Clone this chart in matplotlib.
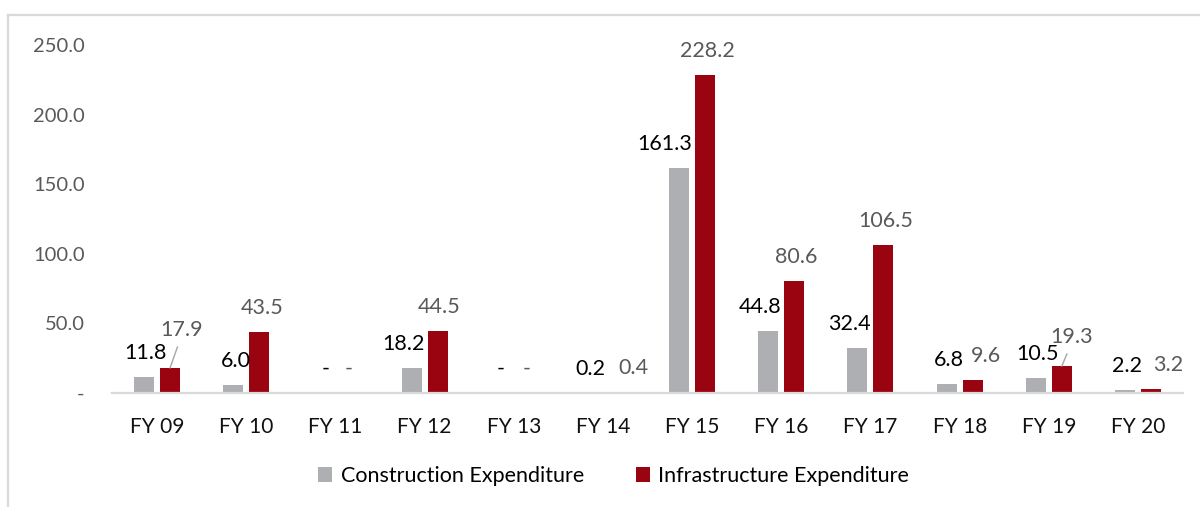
import matplotlib
matplotlib.use("Agg")
import matplotlib.pyplot as plt
import numpy as np
from matplotlib.patches import Patch
from matplotlib.lines import Line2D

# Data
years = ["FY 09", "FY 10", "FY 11", "FY 12", "FY 13", "FY 14",
         "FY 15", "FY 16", "FY 17", "FY 18", "FY 19", "FY 20"]
construction = [11.8, 6.0, 0.0, 18.2, 0.0, 0.2, 161.3, 44.8, 32.4, 6.8, 10.5, 2.2]
infrastructure = [17.9, 43.5, 0.0, 44.5, 0.0, 0.4, 228.2, 80.6, 106.5, 9.6, 19.3, 3.2]
yticks = [0, 50, 100, 150, 200, 250]

# Styling
GREY = "#AEAFB2"
RED = "#9A0410"
LABEL_DARK = "#000000"
LABEL_GREY = "#595959"
LINE_GREY = "#D9D9D9"

# Horizontal label nudges (pixels) so neighbouring labels don't collide
con_dx = [2, 3, 3, -8, 0, 0, -14, -8, -8, 2, 2, 2]
inf_dx = [12, 3, 0, 2, 0, 18, 2, 2, 2, 13, 10, 17]
inf_dy = [14, 0, 0, 0, 0, 0, 0, 0, 0, 0, 5, 0]
leader = [True, False, False, False, False, False, False, False, False, False, True, False]

plt.rcParams["font.family"] = ["Lato", "DejaVu Sans"]

fig = plt.figure(figsize=(12, 5.07), dpi=100)
ax = fig.add_axes([112.4 / 1200, (507 - 393) / 507, 1070.2 / 1200, 348 / 507])

x = np.arange(len(years))
w = 0.224
off = 0.146
ax.bar(x - off, construction, width=w, color=GREY, label="Construction Expenditure", zorder=2)
ax.bar(x + off, infrastructure, width=w, color=RED, label="Infrastructure Expenditure", zorder=2)

ax.set_xlim(-0.5, len(years) - 0.5)
ax.set_ylim(0, 250)

def fmt(v):
    return "-" if v == 0 else f"{v:.1f}"

LABEL_FS = 15.5
base_dy = 24
for i in range(len(years)):
    c = construction[i]
    ax.annotate(fmt(c), xy=(x[i] - off, c), xytext=(con_dx[i], base_dy),
                textcoords="offset pixels", ha="center", va="center",
                fontsize=LABEL_FS, color=LABEL_DARK, annotation_clip=False)
    v = infrastructure[i]
    kw = {}
    if leader[i]:
        kw["arrowprops"] = dict(arrowstyle="-", color="#A6A6A6", lw=1.0,
                                relpos=(0.45, 0.0), shrinkA=3, shrinkB=0)
    ax.annotate(fmt(v), xy=(x[i] + off, v), xytext=(inf_dx[i], base_dy + inf_dy[i]),
                textcoords="offset pixels", ha="center", va="center",
                fontsize=LABEL_FS, color=LABEL_GREY, annotation_clip=False, **kw)

# Axes styling
for s in ["top", "right", "left"]:
    ax.spines[s].set_visible(False)
ax.spines["bottom"].set_color(LINE_GREY)
ax.spines["bottom"].set_linewidth(1.6)

ax.set_xticks(x)
ax.set_xticklabels(years, fontsize=15, color="#111111")
ax.set_yticks(yticks)
ax.set_yticklabels(["-" if t == 0 else f"{t:.1f}" for t in yticks], fontsize=14.5, color=LABEL_GREY)
ax.tick_params(axis="x", length=0, pad=17)
ax.tick_params(axis="y", length=0, pad=20)

# Legend
handles = [Patch(facecolor=GREY, edgecolor="none"), Patch(facecolor=RED, edgecolor="none")]
fig.legend(handles, ["Construction Expenditure", "Infrastructure Expenditure"],
           loc="center", bbox_to_anchor=(613.5 / 1200, (507 - 476) / 507),
           ncol=2, frameon=False, fontsize=15.5, handlelength=0.65, handleheight=0.65,
           handletextpad=0.4, columnspacing=2.4)

# Outer frame (top and left edges)
fig.add_artist(Line2D([8 / 1200, 1.0], [1 - 15 / 507, 1 - 15 / 507],
                      transform=fig.transFigure, color=LINE_GREY, lw=1.6))
fig.add_artist(Line2D([8 / 1200, 8 / 1200], [0, 1 - 15 / 507],
                      transform=fig.transFigure, color=LINE_GREY, lw=1.6))

fig.savefig("out.png", dpi=100, facecolor="white")
